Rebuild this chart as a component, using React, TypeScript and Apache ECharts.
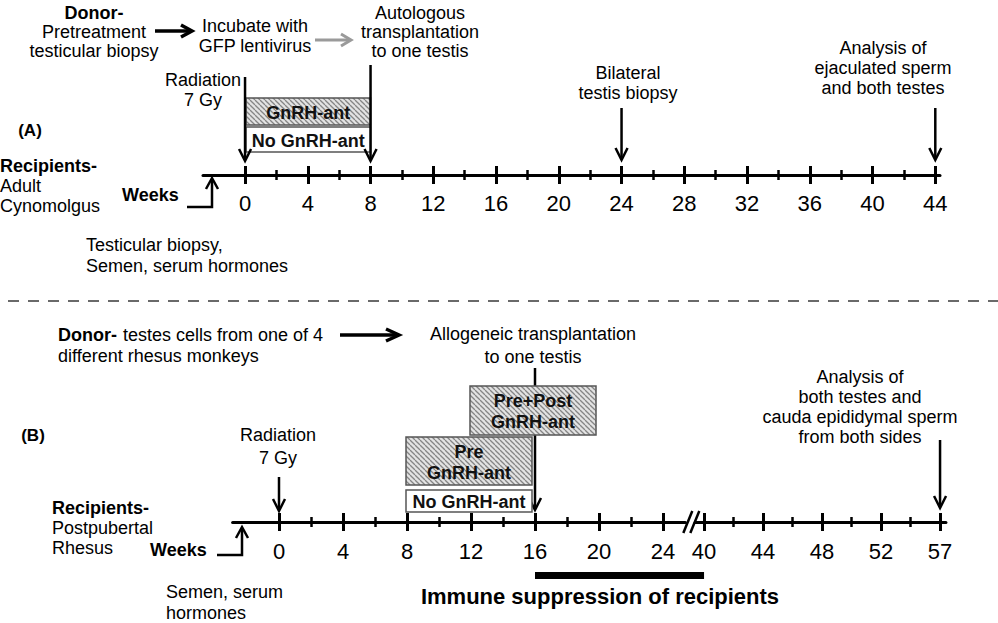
import React, { useEffect, useRef } from "react";
import * as echarts from "echarts";

const FONT = '"Liberation Sans", Arial, Helvetica, sans-serif';

// ---------- Panel A data ----------
const weeksAMajor = [0, 4, 8, 12, 16, 20, 24, 28, 32, 36, 40, 44];
const weeksAMinor = [2, 6, 10, 14, 18, 22, 26, 30, 34, 38, 42];
const boxesA = [
  { label: "GnRH-ant", start: 0, end: 8, hatched: true },
  { label: "No GnRH-ant", start: 0, end: 8, hatched: false },
];
const eventsA = [0, 8, 24, 44];

// ---------- Panel B data ----------
const weeksBLeftMajor = [0, 4, 8, 12, 16, 20, 24];
const weeksBLeftMinor = [2, 6, 10, 14, 18, 22];
const weeksBRightLabels = ["40", "44", "48", "52", "57"];
const weeksBRightSlots = [40, 44, 48, 52, 56]; // evenly spaced slots of the drawn axis
const weeksBRightMinor = [42, 46, 50, 54];
const boxesB = [
  { label: "Pre+Post\nGnRH-ant", start: 12, end: 20, hatched: true },
  { label: "Pre\nGnRH-ant", start: 8, end: 16, hatched: true },
  { label: "No GnRH-ant", start: 8, end: 16, hatched: false },
];
const eventsBLeft = [0, 16];
const eventsBRight = ["57"];
const immuneSuppression = { start: 16, end: 40 };

// ---------- layout (px offsets above the axis line) ----------
const boxRowsA = [[77, 50], [48, 23]];
const boxRowsB = [[136, 87], [85, 37], [32, 10]];
const arrowRowsA = [[98, 14], [110, 14], [67, 15], [67, 15]];
const arrowRowsBLeft = [[45, 11], [154, 12]];
const arrowRowsBRight = [[82, 14]];

function makeHatch() {
  const s = 5;
  const c = document.createElement("canvas");
  c.width = s;
  c.height = s;
  const ctx = c.getContext("2d")!;
  ctx.fillStyle = "#e3e3e3";
  ctx.fillRect(0, 0, s, s);
  ctx.strokeStyle = "#858585";
  ctx.lineWidth = 1.3;
  for (const k of [-s, 0, s]) {
    ctx.beginPath();
    ctx.moveTo(k, 0);
    ctx.lineTo(k + s, s);
    ctx.stroke();
  }
  return { image: c, repeat: "repeat", imageWidth: s, imageHeight: s };
}

function axesFor(
  gridIndex: number,
  min: number,
  max: number,
  major: number[],
  minor: number[],
  margin: number,
  fmt: (v: number) => string
) {
  const base: any = {
    type: "value",
    gridIndex,
    min,
    max,
    position: "bottom",
    splitLine: { show: false },
    axisLine: { show: false },
    axisLabel: { show: false },
  };
  const tickStyle = (w: number) => ({ color: "#000", width: w, cap: "butt" });
  return [
    {
      ...base,
      axisLine: { show: true, lineStyle: { color: "#000", width: 3 } },
      axisTick: { show: true, customValues: major, length: 9, inside: false, lineStyle: tickStyle(3) },
      axisLabel: {
        show: true,
        customValues: major,
        formatter: fmt,
        margin,
        fontSize: 22,
        color: "#000",
        fontFamily: FONT,
      },
    },
    { ...base, axisTick: { show: true, customValues: major, length: 9, inside: true, lineStyle: tickStyle(3) } },
    { ...base, axisTick: { show: true, customValues: minor, length: 5, inside: false, lineStyle: tickStyle(2.5) } },
    { ...base, axisTick: { show: true, customValues: minor, length: 5, inside: true, lineStyle: tickStyle(2.5) } },
  ];
}

function boxSeries(xAxisIndex: number, yAxisIndex: number, boxes: any[], rows: number[][], z: number, padL: number, padR: number, hatch: any) {
  return {
    type: "custom",
    xAxisIndex,
    yAxisIndex,
    z,
    silent: true,
    data: boxes.map((b) => [b.start, b.end]),
    renderItem: (params: any, api: any) => {
      const i = params.dataIndex;
      const b = boxes[i];
      const p0 = api.coord([api.value(0), 0]);
      const p1 = api.coord([api.value(1), 0]);
      const [top, bot] = rows[i];
      const x = p0[0] + padL;
      const w = p1[0] - padR - x;
      const y = p0[1] - top;
      const h = top - bot;
      return {
        type: "group",
        children: [
          {
            type: "rect",
            shape: { x, y, width: w, height: h },
            style: { fill: b.hatched ? hatch : "#fff", stroke: "#555", lineWidth: 1.5 },
          },
          {
            type: "text",
            x: x + w / 2,
            y: y + h / 2 + 1,
            style: {
              text: b.label,
              align: "center",
              verticalAlign: "middle",
              fontSize: 18,
              fontWeight: "bold",
              fontFamily: FONT,
              fill: "#111",
              lineHeight: 21,
            },
          },
        ],
      };
    },
  };
}

function arrowSeries(xAxisIndex: number, yAxisIndex: number, positions: number[], rows: number[][], z: number) {
  return {
    type: "custom",
    xAxisIndex,
    yAxisIndex,
    z,
    silent: true,
    data: positions.map((p) => [p, 0]),
    renderItem: (params: any, api: any) => {
      const i = params.dataIndex;
      const p = api.coord([api.value(0), 0]);
      const [top, tip] = rows[i];
      const x = p[0];
      const y0 = p[1] - top;
      const y1 = p[1] - tip;
      return {
        type: "group",
        children: [
          { type: "line", shape: { x1: x, y1: y0, x2: x, y2: y1 - 1 }, style: { stroke: "#000", lineWidth: 2.5 } },
          {
            type: "polyline",
            shape: { points: [[x - 6, y1 - 12], [x, y1], [x + 6, y1 - 12]] },
            style: { stroke: "#000", lineWidth: 2.5, fill: null },
          },
        ],
      };
    },
  };
}

function T(text: string, x: number, y: number, o: any = {}) {
  const align = o.align || "center";
  return {
    type: "text",
    x,
    y,
    silent: true,
    style: {
      text,
      fill: "#000",
      fontSize: o.size || 18,
      fontWeight: o.bold ? "bold" : "normal",
      fontFamily: FONT,
      align,
      textAlign: align,
      verticalAlign: "middle",
      textVerticalAlign: "middle",
    },
  };
}

function L(x1: number, y1: number, x2: number, y2: number, o: any = {}) {
  return {
    type: "line",
    silent: true,
    shape: { x1, y1, x2, y2 },
    style: { stroke: o.color || "#000", lineWidth: o.w || 2.5, lineDash: o.dash || null },
  };
}

function P(points: number[][], o: any = {}) {
  return {
    type: "polyline",
    silent: true,
    shape: { points },
    style: { stroke: o.color || "#000", lineWidth: o.w || 2.5, fill: null },
  };
}

export default function App() {
  const ref = useRef<HTMLDivElement>(null);
  useEffect(() => {
    const el = ref.current!;
    const chart = echarts.init(el, null, { renderer: "svg" });
    const hatch = makeHatch();
    const rightPos = (label: string) => weeksBRightSlots[weeksBRightLabels.indexOf(label)];

    const option: any = {
      animation: false,
      backgroundColor: "#fff",
      grid: [
        { left: 203, top: 40, width: 737, height: 135 },
        { left: 232.6, top: 360, width: 452.8, height: 162 },
        { left: 695.2, top: 360, width: 250.75, height: 162 },
      ],
      xAxis: [
        ...axesFor(0, -2.68, 44.3, weeksAMajor, weeksAMinor, 17, (v) => String(v)),
        ...axesFor(1, -2.9, 25.4, weeksBLeftMajor, weeksBLeftMinor, 18, (v) => String(v)),
        ...axesFor(2, 39.4, 56.4, weeksBRightSlots, weeksBRightMinor, 18, (v) => weeksBRightLabels[weeksBRightSlots.indexOf(v)]),
      ],
      yAxis: [0, 1, 2].map((g) => ({ type: "value", gridIndex: g, min: 0, max: 1, show: false })),
      series: [
        boxSeries(0, 0, boxesA, boxRowsA, 2, 1, 0, hatch),
        arrowSeries(0, 0, eventsA, arrowRowsA, 3),
        arrowSeries(4, 1, eventsBLeft, arrowRowsBLeft, 2),
        boxSeries(4, 1, boxesB, boxRowsB, 3, -1, 3, hatch),
        arrowSeries(8, 2, eventsBRight.map(rightPos), arrowRowsBRight, 2),
      ],
    };
    chart.setOption(option);

    const x16 = chart.convertToPixel({ xAxisIndex: 4 }, immuneSuppression.start) as number;
    const x40 = chart.convertToPixel({ xAxisIndex: 8 }, immuneSuppression.end) as number;
    const leftEnd = chart.convertToPixel({ xAxisIndex: 4 }, 25.4) as number;
    const rightStart = chart.convertToPixel({ xAxisIndex: 8 }, 39.4) as number;
    const bx = (leftEnd + rightStart) / 2;

    const elements: any[] = [
      // Panel A header
      T("Donor-", 94, 13, { bold: true }),
      T("Pretreatment", 94, 32),
      T("testicular biopsy", 94, 51),
      L(155, 31, 191, 31, { w: 3.5 }),
      P([[181, 25], [192, 31], [181, 37]], { w: 3.5 }),
      T("Incubate with", 255, 26),
      T("GFP lentivirus", 255, 46),
      L(315, 40, 350, 40, { w: 3, color: "#9a9a9a" }),
      P([[341, 34], [351, 40], [341, 46]], { w: 3, color: "#9a9a9a" }),
      T("Autologous", 420, 13),
      T("transplantation", 420, 32),
      T("to one testis", 420, 51),
      T("Radiation", 203, 80),
      T("7 Gy", 203, 100),
      T("(A)", 30, 130, { bold: true, size: 17 }),
      T("Recipients-", 0, 166, { bold: true, align: "left" }),
      T("Adult", 0, 186, { align: "left" }),
      T("Cynomolgus", 0, 206, { align: "left" }),
      T("Weeks", 122, 195, { bold: true, align: "left" }),
      P([[187, 207], [212, 207], [212, 180]]),
      P([[206, 189], [212, 178], [218, 189]]),
      T("Testicular biopsy,", 86, 245, { align: "left" }),
      T("Semen, serum hormones", 86, 266, { align: "left" }),
      T("Bilateral", 628, 73),
      T("testis biopsy", 628, 93),
      T("Analysis of", 883, 48),
      T("ejaculated sperm", 883, 68),
      T("and both testes", 883, 88),
      // separator
      L(8, 301, 998, 301, { w: 2, color: "#6a6a6a", dash: [11, 9] }),
      // Panel B
      T("Donor-", 58, 335, { bold: true, align: "left" }),
      T("testes cells from one of 4", 123, 335, { align: "left" }),
      T("different rhesus monkeys", 58, 356, { align: "left" }),
      L(340, 335, 398, 335, { w: 3.5 }),
      P([[386, 329], [399, 335], [386, 341]], { w: 3.5 }),
      T("Allogeneic transplantation", 533, 334),
      T("to one testis", 533, 357),
      T("(B)", 33, 435, { bold: true, size: 17 }),
      T("Radiation", 278, 435),
      T("7 Gy", 278, 458),
      T("Recipients-", 52, 508, { bold: true, align: "left" }),
      T("Postpubertal", 52, 528, { align: "left" }),
      T("Rhesus", 52, 548, { align: "left" }),
      T("Weeks", 150, 550, { bold: true, align: "left" }),
      P([[217, 555], [242, 555], [242, 529]]),
      P([[236, 538], [242, 527], [248, 538]]),
      T("Semen, serum", 166, 592, { align: "left" }),
      T("hormones", 166, 613, { align: "left" }),
      T("Analysis of", 860, 377),
      T("both testes and", 860, 397),
      T("cauda epididymal sperm", 860, 417),
      T("from both sides", 860, 437),
      // axis break
      L(bx - 7, 533, bx + 2, 511, { w: 2.5 }),
      L(bx, 533, bx + 9, 511, { w: 2.5 }),
      // immune suppression bar
      {
        type: "rect",
        silent: true,
        shape: { x: x16, y: 572, width: x40 - x16, height: 7 },
        style: { fill: "#000" },
      },
      T("Immune suppression of recipients", 600, 596, { bold: true, size: 22 }),
    ];
    chart.setOption({ graphic: { elements } });
    return () => chart.dispose();
  }, []);
  return (
    <div
      ref={ref}
      style={{ position: "absolute", left: 0, top: 0, width: 998, height: 623, background: "#fff" }}
    />
  );
}
